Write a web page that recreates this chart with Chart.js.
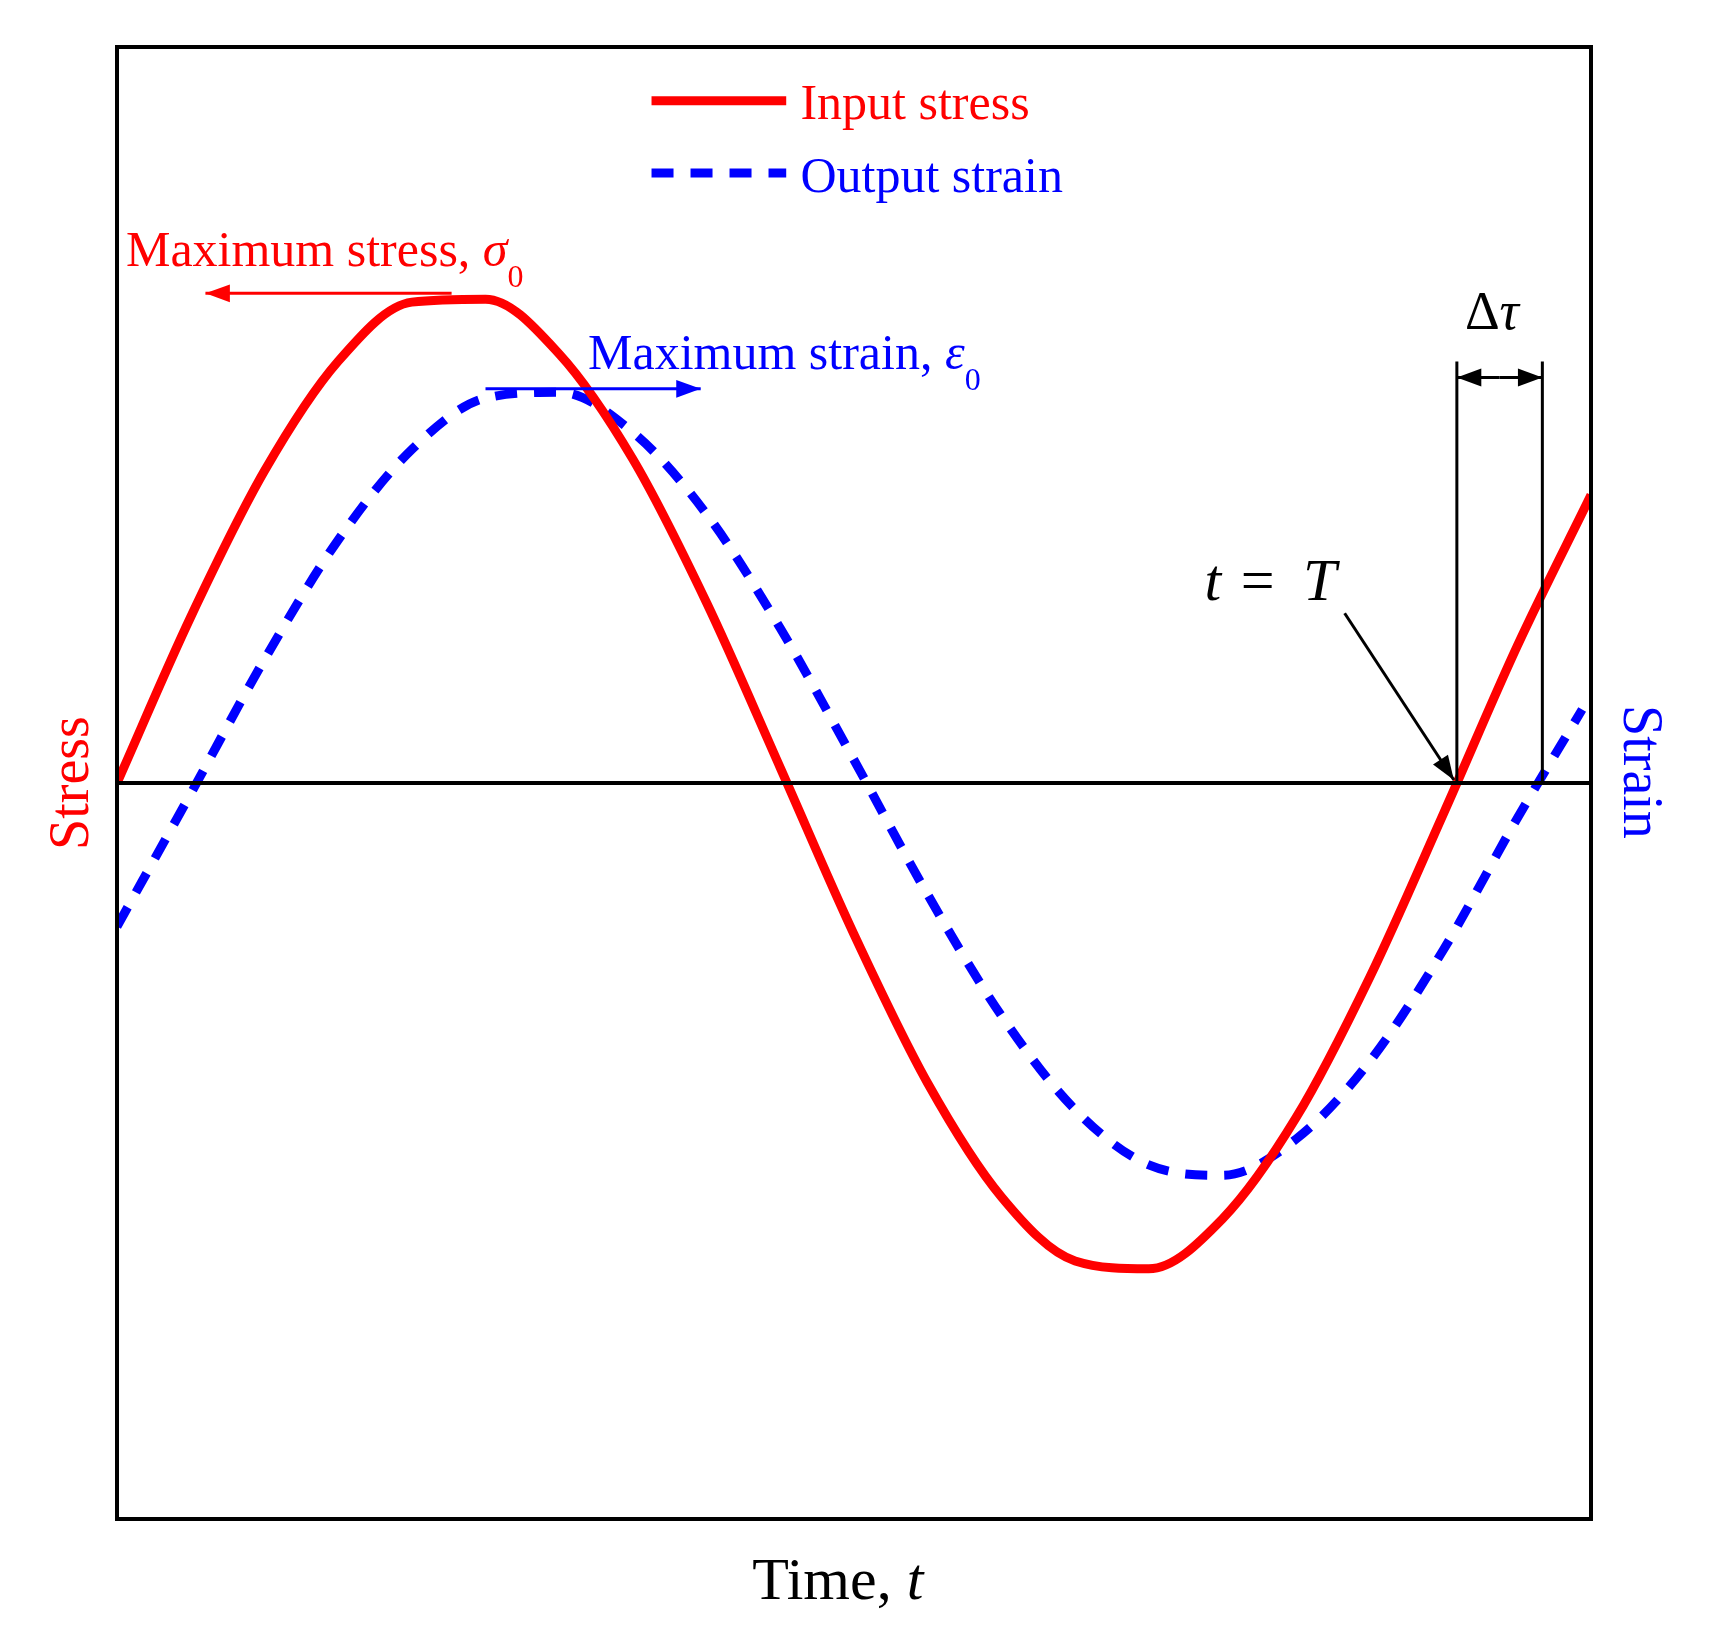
<!DOCTYPE html>
<html>
<head>
<meta charset="UTF-8">
<title>Stress and strain</title>
<script src="https://cdn.jsdelivr.net/npm/chart.js"></script>
<style>body{margin:0;background:#fff}</style>
</head>
<body>
<canvas id="c" width="1709" height="1638"></canvas>
<script>
const timeX = [0,5,10,15,20,25,30,35,40,45,50,55,60,65,70,75,80,85,90,95,100];
const stress = [0,0.339,0.637,0.861,0.982,0.988,0.876,0.661,0.368,0.031,-0.309,-0.613,-0.845,-0.976,-0.992,-0.890,-0.683,-0.396,-0.062,0.280,0.588];
const strainX = [0,5,10,15,20,25,30,35,40,45,50,55,60,65,70,75,80,85,90,95,99.4];
const strain = [-0.293,-0.022,0.252,0.496,0.681,0.786,0.798,0.716,0.549,0.316,0.047,-0.228,-0.475,-0.667,-0.780,-0.801,-0.727,-0.568,-0.340,-0.072,0.15];

const S = 1.095;
const P = v => v * S;
const FONT = '"Liberation Serif", "Times New Roman", serif';

function arrowHead(ctx, x1, y1, x2, y2, size, color) {
  const a = Math.atan2(y2 - y1, x2 - x1);
  ctx.fillStyle = color;
  ctx.beginPath();
  ctx.moveTo(x2, y2);
  ctx.lineTo(x2 - size * Math.cos(a - 0.35), y2 - size * Math.sin(a - 0.35));
  ctx.lineTo(x2 - size * Math.cos(a + 0.35), y2 - size * Math.sin(a + 0.35));
  ctx.closePath();
  ctx.fill();
}
function arrow(ctx, x1, y1, x2, y2, color, w) {
  ctx.strokeStyle = color; ctx.lineWidth = w;
  ctx.beginPath(); ctx.moveTo(x1, y1); ctx.lineTo(x2, y2); ctx.stroke();
  arrowHead(ctx, x1, y1, x2, y2, 26, color);
}

const deco = {
  id: 'deco',
  afterDatasetsDraw(chart) {
    const ctx = chart.ctx, a = chart.chartArea;
    const x = chart.scales.x, y = chart.scales.y;
    ctx.save();
    // zero line
    ctx.strokeStyle = '#000'; ctx.lineWidth = 4;
    ctx.beginPath(); ctx.moveTo(a.left, y.getPixelForValue(0)); ctx.lineTo(a.right, y.getPixelForValue(0)); ctx.stroke();
    // frame
    ctx.lineWidth = 4;
    ctx.strokeRect(a.left, a.top, a.right - a.left, a.bottom - a.top);

    // max stress arrow
    arrow(ctx, x.getPixelForValue(22.7), y.getPixelForValue(1.0), x.getPixelForValue(6.0), y.getPixelForValue(1.0), '#ff0000', 3);
    // max strain arrow
    arrow(ctx, x.getPixelForValue(25), y.getPixelForValue(0.805), x.getPixelForValue(39.6), y.getPixelForValue(0.805), '#0000ff', 3);

    // delta tau lines
    const xa = x.getPixelForValue(90.9), xb = x.getPixelForValue(96.7);
    ctx.strokeStyle = '#000'; ctx.lineWidth = 3;
    ctx.beginPath();
    ctx.moveTo(xa, y.getPixelForValue(0)); ctx.lineTo(xa, y.getPixelForValue(0.861));
    ctx.moveTo(xb, y.getPixelForValue(0)); ctx.lineTo(xb, y.getPixelForValue(0.861));
    ctx.stroke();
    const ym = y.getPixelForValue(0.828), xm = (xa + xb) / 2;
    arrow(ctx, xm, ym, xa, ym, '#000', 3);
    arrow(ctx, xm, ym, xb, ym, '#000', 3);
    // t = T arrow
    arrow(ctx, P(1228), P(560), xa - 3, y.getPixelForValue(0) - 3, '#000', 3);

    // legend
    ctx.lineWidth = 9; ctx.strokeStyle = '#ff0000';
    ctx.beginPath(); ctx.moveTo(P(595), P(92)); ctx.lineTo(P(718), P(92)); ctx.stroke();
    ctx.strokeStyle = '#0000ff'; ctx.setLineDash([22, 17]);
    ctx.beginPath(); ctx.moveTo(P(595), P(158)); ctx.lineTo(P(718), P(158)); ctx.stroke();
    ctx.setLineDash([]);
    ctx.textBaseline = 'alphabetic';
    ctx.font = '50px ' + FONT;
    ctx.fillStyle = '#ff0000'; ctx.fillText('Input stress', P(731), P(109));
    ctx.fillStyle = '#0000ff'; ctx.fillText('Output strain', P(731), P(175));

    // annotations
    ctx.fillStyle = '#ff0000';
    ctx.fillText('Maximum stress, ', P(115), P(243));
    let w = ctx.measureText('Maximum stress, ').width;
    ctx.font = 'italic 50px ' + FONT; ctx.fillText('σ', P(115) + w, P(243));
    let w2 = ctx.measureText('σ').width;
    ctx.font = '32px ' + FONT; ctx.fillText('0', P(115) + w + w2, P(262));

    ctx.fillStyle = '#0000ff'; ctx.font = '50px ' + FONT;
    ctx.fillText('Maximum strain, ', P(537), P(337));
    w = ctx.measureText('Maximum strain, ').width;
    ctx.font = 'italic 50px ' + FONT; ctx.fillText('ε', P(537) + w, P(337));
    w2 = ctx.measureText('ε').width;
    ctx.font = '32px ' + FONT; ctx.fillText('0', P(537) + w + w2, P(356));

    ctx.fillStyle = '#000';
    ctx.font = '54px ' + FONT; ctx.textAlign = 'right';
    ctx.fillText('Δ', xm, P(300));
    ctx.textAlign = 'left'; ctx.font = 'italic 54px ' + FONT;
    ctx.fillText('τ', xm, P(300));
    ctx.font = 'italic 60px ' + FONT; ctx.fillText('t', P(1100), P(548));
    ctx.font = '60px ' + FONT; ctx.fillText('=', P(1133), P(548));
    ctx.font = 'italic 60px ' + FONT; ctx.fillText('T', P(1190), P(548));

    // axis titles
    ctx.font = '60px ' + FONT; ctx.textAlign = 'right';
    ctx.fillText('Time, ', P(828), P(1460));
    ctx.textAlign = 'left'; ctx.font = 'italic 60px ' + FONT;
    ctx.fillText('t', P(828), P(1460));

    ctx.textAlign = 'center'; ctx.font = '56px ' + FONT;
    ctx.save(); ctx.translate(P(80), y.getPixelForValue(0)); ctx.rotate(-Math.PI / 2);
    ctx.fillStyle = '#ff0000'; ctx.fillText('Stress', 0, 0); ctx.restore();
    ctx.save(); ctx.translate(P(1483), P(705)); ctx.rotate(Math.PI / 2);
    ctx.fillStyle = '#0000ff'; ctx.fillText('Strain', 0, 0); ctx.restore();
    ctx.restore();
  }
};

new Chart(document.getElementById('c'), {
  type: 'line',
  data: {
    datasets: [
      { label: 'Input stress', data: timeX.map((t, i) => ({ x: t, y: stress[i] })),
        borderColor: '#ff0000', borderWidth: 9, pointRadius: 0, tension: 0.4, cubicInterpolationMode: 'monotone' },
      { label: 'Output strain', data: strainX.map((t, i) => ({ x: t, y: strain[i] })),
        borderColor: '#0000ff', borderWidth: 9, borderDash: [22, 17], pointRadius: 0, tension: 0.4, cubicInterpolationMode: 'monotone' }
    ]
  },
  options: {
    responsive: false, animation: false,
    layout: { padding: { left: 117, right: 118, top: 47, bottom: 119 } },
    plugins: { legend: { display: false }, tooltip: { enabled: false } },
    scales: {
      x: { type: 'linear', min: 0, max: 100, display: false },
      y: { min: -1.503, max: 1.503, display: false }
    }
  },
  plugins: [deco]
});
</script>
</body>
</html>
